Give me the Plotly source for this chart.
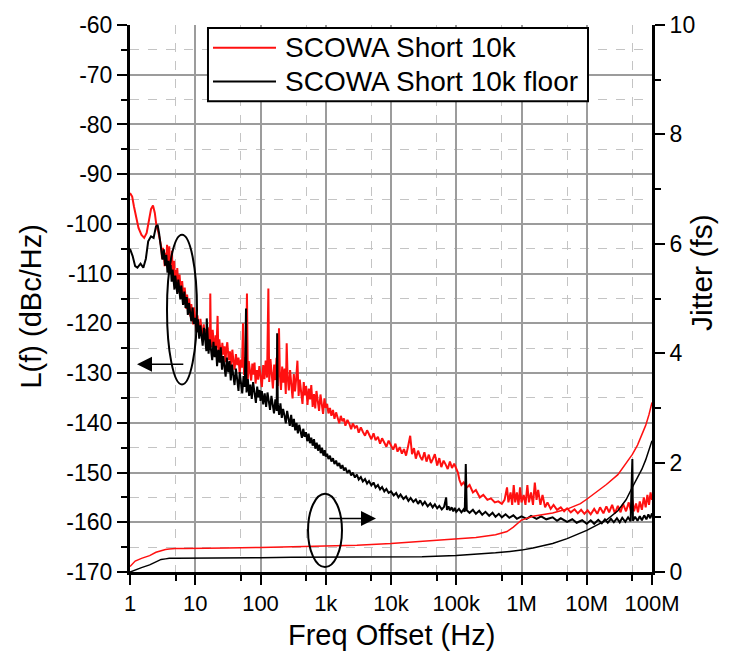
import plotly.graph_objects as go

# ---------------- data ----------------
red_pn = [
    (1, -93.8), (1.08, -94.5), (1.15, -96.5), (1.25, -99), (1.35, -100.8), (1.5, -102.2), (1.65, -102.8),
    (1.8, -101.8), (1.95, -99), (2.1, -97), (2.25, -96.3), (2.4, -97.8), (2.55, -100.5), (2.7, -101.5),
    (2.85, -103),
    (3.0, -104.5), (3.1, -107), (3.2, -104.8), (3.3, -106.2), (3.4, -108.5), (3.5, -105.8), (3.6, -107.1),
    (3.7, -104.2), (3.8, -108.9), (3.9, -107.3), (4.0, -104.5), (4.1, -109.6), (4.2, -106.8), (4.3, -108.2),
    (4.4, -105.4), (4.5, -110.8), (4.6, -109.1), (4.75, -107.4), (4.9, -111.6), (5.0, -109.3),
    (5.15, -112.5), (5.3, -108.9), (5.45, -111.7), (5.6, -113.8), (5.75, -110.2), (5.9, -112.4),
    (6.1, -114.9), (6.3, -111.5), (6.5, -113.6), (6.7, -116.2), (6.9, -112.8), (7.1, -115.4),
    (7.3, -117.1), (7.5, -114.2), (7.8, -116.8), (8.1, -115.0), (8.4, -118.6), (8.7, -116.1),
    (9.0, -117.9), (9.3, -120.2), (9.6, -116.8), (10.0, -119.3),
    (10.4, -121.5), (10.8, -118.4), (11.2, -120.3), (11.6, -122.6), (12, -119.1), (12.5, -121.8),
    (13, -123.4), (13.5, -120.2), (14, -122.9), (14.5, -121.1), (15, -124.3), (15.6, -120.8),
    (16.2, -123.1), (16.8, -125), (17, -114), (17.3, -122.1), (17.9, -124.8), (18.5, -121.3),
    (19.1, -123.6), (19.8, -125.7), (20.5, -122.4), (21.2, -124.9), (22, -118.5), (22.6, -126.1),
    (23.4, -123.2), (24.2, -125.4), (25, -127.2), (26, -123.9), (27, -126.3), (28, -124.6), (29, -127.8),
    (30, -125.1), (31, -123.8), (32.5, -127.4), (34, -125.6), (35.5, -128.7), (37, -125.3), (38.5, -127.6),
    (40, -129.3), (42, -126.2), (44, -128.4), (46, -126.9), (48, -130.1), (50, -127.3), (52, -128.9),
    (54, -120), (56, -130.4), (58, -126.8), (60, -129.2), (62, -114), (64, -131.2), (66, -127.6),
    (69, -129.8), (72, -131.5), (75, -128.1), (78, -130.3), (81, -127.9), (84, -132.1), (88, -129.4),
    (92, -131.3), (96, -128.6), (100, -130.5),
    (105, -132.8), (110, -128.4), (115, -131.2), (120, -127.5), (126, -130.9), (132, -113), (136, -131.8),
    (142, -127.2), (148, -129.6), (155, -133.1), (162, -128.3), (169, -131.4), (176, -126.9),
    (184, -132.6), (192, -121), (198, -130.2), (206, -133.4), (215, -128.7), (224, -131.9), (234, -129.1),
    (244, -134.2), (252, -124), (260, -130.6), (272, -133.5), (284, -129.4), (296, -132.8), (310, -135.1),
    (324, -130.2), (338, -133.7), (352, -131.2), (368, -127.5), (384, -134.6), (400, -131.3),
    (420, -133.9), (440, -136.2), (460, -131.8), (480, -134.5), (500, -132.6), (525, -136.4),
    (550, -133.1), (575, -135.3), (600, -132.4), (630, -136.8), (660, -134.2), (690, -137.1),
    (720, -133.6), (755, -135.9), (790, -137.6), (830, -134.3), (870, -136.5), (910, -138.2),
    (955, -135.1), (1000, -137),
    (1050, -136.2), (1100, -138.1), (1160, -137), (1220, -138.6), (1290, -137.4), (1360, -139.2),
    (1440, -137.9), (1520, -138.8), (1610, -140.1), (1700, -138.6), (1800, -139.7), (1900, -139.1),
    (2000, -140.6), (2150, -139.4), (2300, -140.2), (2450, -141.3), (2600, -140.1), (2800, -141),
    (3000, -140.6), (3200, -142), (3450, -140.9), (3700, -141.8), (4000, -142.6), (4300, -141.5),
    (4600, -142.4), (5000, -143.3), (5400, -142.1), (5800, -143.5), (6300, -142.8), (6800, -144.2),
    (7300, -143.1), (7900, -144), (8500, -144.8), (9200, -143.6), (10000, -144.7),
    (10800, -145.4), (11700, -144.2), (12600, -145.8), (13600, -144.9), (14700, -146.2), (15800, -145.3),
    (17000, -146.6), (18300, -144.7), (19700, -142.6), (21000, -146.3), (22500, -145.1), (24000, -147.2),
    (26000, -145.6), (28000, -146.8), (30000, -147.5), (32500, -145.9), (35000, -147.8), (38000, -146.4),
    (41000, -148.1), (44000, -147.2), (47000, -146.3), (51000, -148.6), (55000, -147.1), (59000, -148.9),
    (64000, -147.6), (69000, -148.4), (74000, -149.3), (80000, -147.8), (86000, -149.1), (93000, -148.2),
    (100000, -149.2), (106000, -150), (112000, -151.5), (120000, -152.5), (130000, -152),
    (145000, -153), (160000, -152.5), (180000, -154), (200000, -153.5), (230000, -155), (260000, -154.5),
    (300000, -155.5), (340000, -155.2), (390000, -156), (440000, -155.8), (500000, -156.3),
    (550000, -155.5), (600000, -153), (630000, -156), (680000, -154), (720000, -156.5), (760000, -152.5),
    (800000, -156), (850000, -154), (900000, -156.5), (950000, -153), (1000000, -156), (1080000, -154.5),
    (1150000, -156.5), (1230000, -152.5), (1300000, -156), (1400000, -154), (1500000, -156.5),
    (1600000, -152), (1700000, -155.5), (1800000, -153.5), (1950000, -156.5), (2100000, -154.5),
    (2300000, -157), (2500000, -156), (2800000, -157.3), (3100000, -156.5), (3500000, -157.5),
    (4000000, -157), (4500000, -157.8), (5000000, -157.2), (5700000, -158), (6500000, -157.4),
    (7300000, -158.2), (8200000, -157.5), (9200000, -158.3), (10300000, -157.6), (11500000, -158.4),
    (13000000, -157.3), (14500000, -158.3), (16000000, -157), (18000000, -158.2), (20000000, -156.8),
    (22000000, -158), (24500000, -156.5), (27000000, -158.2), (30000000, -156.7), (33000000, -158),
    (36000000, -156.3), (40000000, -157.8), (44000000, -156), (48000000, -158), (50000000, -155.5),
    (53000000, -157.8), (57000000, -156.2), (61000000, -158), (65000000, -155.8), (70000000, -157.5),
    (75000000, -155), (80000000, -157), (85000000, -154.5), (90000000, -156.5), (95000000, -154),
    (100000000, -155.5),
]
freq_red = [p[0] for p in red_pn]
pn_red = [p[1] for p in red_pn]

floor_pn = [
    (1, -105), (1.1, -106.5), (1.2, -108.5), (1.3, -108.8), (1.45, -108), (1.6, -108.8), (1.75, -107),
    (1.9, -103.5), (2.1, -102.5), (2.3, -102.8), (2.5, -100.5), (2.65, -100.2), (2.8, -102),
    (3.0, -104.5), (3.15, -107.2), (3.3, -105.1), (3.45, -108.4), (3.6, -106.2), (3.75, -109.8),
    (3.9, -107.4), (4.05, -110.1), (4.2, -108.3), (4.35, -111.6), (4.5, -109.2), (4.65, -111.1),
    (4.8, -113.2), (4.95, -110.4), (5.1, -112.3), (5.3, -114.1), (5.5, -111.2), (5.7, -113.6),
    (5.9, -115.2), (6.1, -112.4), (6.3, -114.8), (6.5, -116.3), (6.8, -113.6), (7.1, -116.9),
    (7.4, -114.7), (7.7, -118.3), (8.0, -115.9), (8.3, -117.4), (8.7, -119.6), (9.1, -116.8),
    (9.5, -120.1), (10, -118.9),
    (10.5, -121.8), (11, -119.2), (11.5, -123.1), (12, -120.4), (12.5, -122.6), (13, -124.5),
    (13.6, -120.9), (14.2, -123.8), (14.8, -125.6), (15, -119), (15.3, -122.4), (16, -126.1),
    (16.7, -123.2), (17.4, -125.3), (18.2, -127.4), (19, -123.7), (19.8, -126.8), (20.7, -124.5),
    (21.6, -128.6), (22.6, -125.3), (23.6, -127.9), (24.6, -124.8), (25.7, -129.3), (26.8, -126.6),
    (28, -128.4), (29.2, -130.7), (30.5, -126.9), (32, -129.8), (33.5, -127.6), (35, -131.5),
    (36.5, -128.3), (38, -130.6), (40, -132.4), (42, -129.1), (44, -131.3), (46, -133.6), (48, -129.8),
    (50, -132.2), (52.5, -134.1), (55, -130.6), (57.5, -132.8), (60, -117), (61, -133.9), (64, -131.2),
    (67, -134.6), (70, -132.3), (73.5, -135.2), (77, -131.8), (81, -134.1), (85, -136), (89, -132.7),
    (93, -134.9), (97, -133.4), (100, -135.6),
    (105, -133.6), (110, -136.3), (116, -134.1), (122, -136.8), (128, -133.9), (134, -135.7),
    (140, -137.4), (147, -134.6), (154, -136.9), (161, -138.1), (169, -135.3), (177, -137.6), (180, -122),
    (184, -136.2), (193, -138.4), (202, -136.1), (212, -139), (222, -137.2), (233, -138.5), (244, -140.1),
    (256, -137.6), (268, -139.3), (281, -140.6), (295, -138.4), (310, -140.8), (325, -139.2),
    (340, -141.5), (357, -140), (374, -142.1), (392, -140.4), (411, -141.7), (431, -143), (452, -141.2),
    (474, -142.8), (497, -141.9), (521, -143.7), (546, -142.2), (573, -144.1), (600, -143), (630, -144.6),
    (660, -143.3), (692, -145.2), (726, -144), (761, -145.6), (798, -144.4), (837, -146.1), (878, -145),
    (920, -146.6), (965, -145.5), (1000, -146.8),
    (1050, -146.2), (1100, -147.3), (1160, -146.6), (1220, -147.8), (1290, -147.1), (1360, -148.3),
    (1440, -147.6), (1520, -148.7), (1610, -148.1), (1700, -149.2), (1800, -148.5), (1900, -149.6),
    (2000, -149), (2150, -150.1), (2300, -149.5), (2450, -150.6), (2600, -150), (2800, -151),
    (3000, -150.4), (3200, -151.4), (3450, -150.9), (3700, -151.8), (4000, -151.3), (4300, -152.2),
    (4600, -151.7), (5000, -152.6), (5400, -152), (5800, -153), (6300, -152.5), (6800, -153.4),
    (7300, -152.9), (7900, -153.8), (8500, -153.3), (9200, -154.1), (10000, -153.8),
    (11000, -154.6), (12000, -154.1), (13000, -155), (14000, -154.4), (15500, -155.3), (17000, -154.8),
    (18500, -155.7), (20000, -155.1), (22000, -155.9), (24000, -155.4), (26000, -156.3), (28000, -155.6),
    (30500, -156.5), (33000, -155.9), (36500, -156.8), (40000, -156.2), (43500, -157), (47000, -156.4),
    (51000, -157.2), (55000, -156.7), (60000, -157.4), (65000, -156.9), (70000, -155), (72000, -157.5),
    (76000, -156.8), (80000, -157.6), (85000, -157), (90000, -157.8), (95000, -157.1), (100000, -157.9),
    (110000, -157.3), (120000, -158), (130000, -157.4), (135000, -157.9), (140000, -148.3),
    (145000, -157.6), (160000, -158.1), (180000, -157.5), (200000, -158.3), (225000, -157.7),
    (250000, -158.5), (280000, -157.9), (320000, -158.7), (360000, -158.1), (400000, -158.9),
    (450000, -158.3), (500000, -159), (570000, -158.4), (650000, -159.1), (750000, -158.6),
    (850000, -159.3), (1000000, -158.8), (1200000, -159.3), (1400000, -158.7), (1700000, -159.3),
    (2000000, -158.8), (2400000, -159.4), (3000000, -159), (3500000, -159.7), (4000000, -159.2),
    (5000000, -159.9), (6000000, -159.4), (7000000, -160.1), (8500000, -159.6), (10000000, -160.3),
    (11500000, -159.6), (13000000, -160.3), (15000000, -159.5), (17000000, -160.2), (19000000, -159.4),
    (21000000, -160.1), (23500000, -159.3), (26000000, -160), (29000000, -159.2), (32000000, -160),
    (35000000, -159.1), (39000000, -159.9), (43000000, -159), (47000000, -159.8), (50000000, -147.3),
    (51000000, -159.7), (55000000, -158.9), (60000000, -159.7), (65000000, -158.8), (70000000, -159.6),
    (76000000, -158.6), (82000000, -159.4), (88000000, -158.4), (94000000, -159.2), (100000000, -158.2),
]
freq_floor = [p[0] for p in floor_pn]
pn_floor = [p[1] for p in floor_pn]

freq_jit = [1, 1.2, 1.5, 2, 2.5, 3, 3.5, 4, 5, 7, 10, 30, 100, 300, 1e3, 3e3, 1e4, 3e4, 1e5, 2e5, 4e5,
            6e5, 7.5e5, 9e5, 1e6, 1.5e6, 2e6, 3e6, 5e6, 8e6, 1e7, 1.5e7, 2e7, 3e7, 4e7, 5e7, 6e7, 7e7,
            8e7, 9e7, 1e8]
jit_red = [0.1, 0.2, 0.25, 0.3, 0.36, 0.39, 0.41, 0.42, 0.43, 0.43, 0.43, 0.44, 0.45, 0.46, 0.47, 0.49,
           0.52, 0.56, 0.6, 0.63, 0.68, 0.74, 0.82, 0.9, 0.95, 1.02, 1.05, 1.08, 1.15, 1.25, 1.33, 1.48,
           1.6, 1.78, 1.98, 2.15, 2.32, 2.5, 2.68, 2.88, 3.1]
jit_floor = [0.0, 0.04, 0.08, 0.13, 0.19, 0.23, 0.24, 0.25, 0.25, 0.25, 0.25, 0.26, 0.26, 0.27, 0.27,
             0.27, 0.27, 0.28, 0.3, 0.32, 0.35, 0.37, 0.38, 0.39, 0.4, 0.44, 0.47, 0.52, 0.61, 0.71,
             0.76, 0.87, 0.95, 1.12, 1.32, 1.55, 1.72, 1.88, 2.05, 2.22, 2.4]

x_tickvals = [1, 10, 100, 1e3, 1e4, 1e5, 1e6, 1e7, 1e8]
x_ticktext = ["1", "10", "100", "1k", "10k", "100k", "1M", "10M", "100M"]
x_minor = [5, 50, 500, 5e3, 5e4, 5e5, 5e6, 5e7]
y_tickvals = [-170, -160, -150, -140, -130, -120, -110, -100, -90, -80, -70, -60]
y_ticktext = ["-170", "-160", "-150", "-140", "-130", "-120", "-110", "-100", "-90", "-80", "-70", "-60"]
series_names = ["SCOWA Short 10k", "SCOWA Short 10k floor"]

RED = "#ff1010"
FONT = "Liberation Sans, Arial, sans-serif"

fig = go.Figure()
fig.add_trace(go.Scatter(x=freq_red, y=pn_red, mode="lines", name=series_names[0], showlegend=False,
                         line=dict(color=RED, width=2)))
fig.add_trace(go.Scatter(x=freq_floor, y=pn_floor, mode="lines", name=series_names[1], showlegend=False,
                         line=dict(color="black", width=2)))
fig.add_trace(go.Scatter(x=freq_jit, y=jit_red, mode="lines", yaxis="y2", showlegend=False,
                         line=dict(color=RED, width=1.5)))
fig.add_trace(go.Scatter(x=freq_jit, y=jit_floor, mode="lines", yaxis="y2", showlegend=False,
                         line=dict(color="black", width=1.5)))

fig.update_layout(
    width=735, height=662,
    margin=dict(l=130, r=83, t=20, b=90),
    plot_bgcolor="white", paper_bgcolor="white",
    font=dict(family=FONT, color="black", size=22),
    xaxis=dict(
        type="log", range=[0, 8], tickmode="array", tickvals=x_tickvals, ticktext=x_ticktext,
        ticks="outside", ticklen=10, tickwidth=2, tickcolor="black",
        showline=True, linewidth=3, linecolor="black", zeroline=False,
        showgrid=True, gridcolor="#9c9c9c", gridwidth=1.5,
        tickfont=dict(size=22),
        minor=dict(tickmode="array", tickvals=x_minor, ticks="outside", ticklen=6, tickwidth=2,
                   tickcolor="black", showgrid=True, gridcolor="#c4c4c4", griddash="dash", gridwidth=1),
    ),
    yaxis=dict(
        range=[-170, -60], tickmode="array", tickvals=y_tickvals, ticktext=y_ticktext,
        ticks="outside", ticklen=10, tickwidth=2, tickcolor="black",
        showline=True, linewidth=3, linecolor="black", zeroline=False,
        showgrid=True, gridcolor="#9c9c9c", gridwidth=1.5,
        tickfont=dict(size=23),
        minor=dict(dtick=5, tick0=-170, ticks="outside", ticklen=6, tickwidth=2, tickcolor="black",
                   showgrid=True, gridcolor="#c4c4c4", griddash="dash", gridwidth=1),
    ),
    yaxis2=dict(
        overlaying="y", side="right", range=[0, 10], tick0=0, dtick=2,
        ticks="outside", ticklen=10, tickwidth=2, tickcolor="black",
        showline=True, linewidth=3, linecolor="black", zeroline=False, showgrid=False,
        tickfont=dict(size=23),
        minor=dict(dtick=1, ticks="outside", ticklen=6, tickwidth=2, tickcolor="black", showgrid=False),
    ),
    showlegend=False,
)

# axis titles
fig.add_annotation(text="Freq Offset (Hz)", xref="paper", yref="paper", x=0.5, y=-0.115,
                   xanchor="center", yanchor="middle", showarrow=False, font=dict(size=29))
fig.add_annotation(text="L(f) (dBc/Hz)", xref="paper", yref="paper", x=-0.19, y=0.485,
                   xanchor="center", yanchor="middle", showarrow=False, textangle=-90,
                   font=dict(size=29))
fig.add_annotation(text="Jitter (fs)", xref="paper", yref="paper", x=1.096, y=0.547,
                   xanchor="center", yanchor="middle", showarrow=False, textangle=-90,
                   font=dict(size=30))

# legend box drawn in the plot area
fig.add_shape(type="rect", xref="paper", yref="paper", x0=0.1494, x1=0.8774, y0=0.8605, y1=0.9946,
              line=dict(color="black", width=2), fillcolor="white", layer="above")
legend_rows = [(0.9583, RED), (0.8967, "black")]
for (ly, col), nm in zip(legend_rows, series_names):
    fig.add_shape(type="line", xref="paper", yref="paper", x0=0.159, x1=0.2797, y0=ly, y1=ly,
                  line=dict(color=col, width=2), layer="above")
    fig.add_annotation(text=nm, xref="paper", yref="paper", x=0.2931, y=ly, xanchor="left",
                       yanchor="middle", showarrow=False, font=dict(size=28))

# ellipses marking which axis each group of curves belongs to
fig.add_shape(type="circle", xref="x", yref="y", x0=3.69, x1=10.64, y0=-132.3, y1=-102.2,
              line=dict(color="black", width=2))
fig.add_shape(type="circle", xref="x", yref="y2", x0=535, x1=1774, y0=0.09, y1=1.43,
              line=dict(color="black", width=2))
# arrows
fig.add_annotation(x=0.107, y=-128.2, ax=0.84, ay=-128.2, xref="x", yref="y", axref="x", ayref="y",
                   text="", showarrow=True, arrowhead=2, arrowsize=2, arrowwidth=1.5, arrowcolor="black")
fig.add_annotation(x=3.77, y=0.98, ax=3.03, ay=0.98, xref="x", yref="y2", axref="x", ayref="y2",
                   text="", showarrow=True, arrowhead=2, arrowsize=2, arrowwidth=1.5, arrowcolor="black")

fig.write_html("out.html")
